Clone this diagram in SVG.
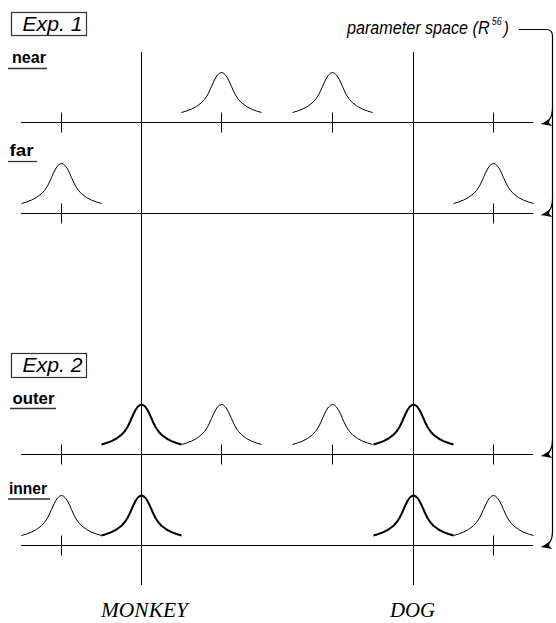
<svg xmlns="http://www.w3.org/2000/svg" xmlns:xlink="http://www.w3.org/1999/xlink" width="556" height="623" viewBox="0 0 556 623">
<style>
.ax{stroke:#000;stroke-width:1;fill:none}
.thin{stroke:#000;stroke-width:1;fill:none;stroke-linejoin:round}
.bold{stroke:#000;stroke-width:2;fill:none;stroke-linejoin:round}
.ul{stroke:#333;stroke-width:1.3}
.box{fill:#fff;stroke:#333;stroke-width:1.2}
.exp{font-family:"Liberation Sans",Arial,sans-serif;font-style:italic;font-size:20px;fill:#000}
.lab{font-family:"Liberation Sans",Arial,sans-serif;font-weight:bold;font-size:16px;fill:#000}
.par{font-family:"Liberation Sans",Arial,sans-serif;font-style:italic;font-size:18px;fill:#000}
.cat{font-family:"Liberation Serif","Times New Roman",serif;font-style:italic;font-size:22px;fill:#000}
.br{stroke:#000;stroke-width:1.2;fill:none}
</style>
<defs>
<path id="bump" d="M-40,0 L-35,-1.5 L-30,-3.4 L-25,-6 L-20,-9.8 L-17,-13 L-14,-17.5 L-12,-21.5 L-10,-26 L-8,-30.5 L-6,-34.5 L-4,-37.5 L-2,-39.3 L0,-40 L2,-39.3 L4,-37.5 L6,-34.5 L8,-30.5 L10,-26 L12,-21.5 L14,-17.5 L17,-13 L20,-9.8 L25,-6 L30,-3.4 L35,-1.5 L40,0"/>
<marker id="arr" markerUnits="userSpaceOnUse" markerWidth="10" markerHeight="8" viewBox="0 0 10 8" refX="10" refY="4" orient="auto">
<path d="M0,0 L10,4 L0,8 L2.5,4 z" fill="#000"/>
</marker>
</defs>

<g id="exp1">
<rect class="box" x="11.5" y="12.5" width="75" height="23"/>
<text class="exp" x="22.5" y="31" textLength="60" lengthAdjust="spacingAndGlyphs">Exp. 1</text>
</g>
<g id="exp2">
<rect class="box" x="11.5" y="353.5" width="75" height="24"/>
<text class="exp" x="22.5" y="372" textLength="60" lengthAdjust="spacingAndGlyphs">Exp. 2</text>
</g>

<g id="label-near">
<text class="lab" x="12" y="63" textLength="34" lengthAdjust="spacingAndGlyphs">near</text>
<line class="ul" x1="8" y1="68.5" x2="47" y2="68.5"/>
</g>
<g id="label-far">
<text class="lab" x="9.5" y="156" textLength="24" lengthAdjust="spacingAndGlyphs">far</text>
<line class="ul" x1="8" y1="161.5" x2="37" y2="161.5"/>
</g>
<g id="label-outer">
<text class="lab" x="12.5" y="404" textLength="42" lengthAdjust="spacingAndGlyphs">outer</text>
<line class="ul" x1="10" y1="408.5" x2="56" y2="408.5"/>
</g>
<g id="label-inner">
<text class="lab" x="9" y="494" textLength="38" lengthAdjust="spacingAndGlyphs">inner</text>
<line class="ul" x1="8" y1="499" x2="50" y2="499"/>
</g>

<g id="category-lines">
<line class="ax" x1="141.5" y1="52" x2="141.5" y2="585"/>
<line class="ax" x1="413.5" y1="52" x2="413.5" y2="585"/>
</g>

<g id="axis-near">
<line class="ax" x1="21" y1="122.5" x2="533" y2="122.5"/>
<path class="ax" d="M61.5,112.5V132.5M221.5,112.5V132.5M332.5,112.5V132.5M493.5,112.5V132.5"/>
<use xlink:href="#bump" href="#bump" class="thin" transform="translate(221.5,112.5)"/>
<use xlink:href="#bump" href="#bump" class="thin" transform="translate(332.5,112.5)"/>
</g>
<g id="axis-far">
<line class="ax" x1="21" y1="213.5" x2="533" y2="213.5"/>
<path class="ax" d="M61.5,203.5V223.5M493.5,203.5V223.5"/>
<use xlink:href="#bump" href="#bump" class="thin" transform="translate(61.5,203.5)"/>
<use xlink:href="#bump" href="#bump" class="thin" transform="translate(493.5,203.5)"/>
</g>
<g id="axis-outer">
<line class="ax" x1="21" y1="454.5" x2="533" y2="454.5"/>
<path class="ax" d="M61.5,444.5V464.5M221.5,444.5V464.5M332.5,444.5V464.5M493.5,444.5V464.5"/>
<use xlink:href="#bump" href="#bump" class="bold" transform="translate(141.5,444.5)"/>
<use xlink:href="#bump" href="#bump" class="thin" transform="translate(221.5,444.5)"/>
<use xlink:href="#bump" href="#bump" class="thin" transform="translate(332.5,444.5)"/>
<use xlink:href="#bump" href="#bump" class="bold" transform="translate(413.5,444.5)"/>
</g>
<g id="axis-inner">
<line class="ax" x1="21" y1="545.5" x2="533" y2="545.5"/>
<path class="ax" d="M61.5,535.5V555.5M493.5,535.5V555.5"/>
<use xlink:href="#bump" href="#bump" class="thin" transform="translate(61.5,535.5)"/>
<use xlink:href="#bump" href="#bump" class="bold" transform="translate(141.5,535.5)"/>
<use xlink:href="#bump" href="#bump" class="bold" transform="translate(413.5,535.5)"/>
<use xlink:href="#bump" href="#bump" class="thin" transform="translate(493.5,535.5)"/>
</g>

<g id="param-label">
<text class="par" x="347" y="34" textLength="162" lengthAdjust="spacingAndGlyphs">parameter space (R<tspan dx="2.5" dy="-9" style="font-size:10px">56</tspan><tspan dx="2" dy="9">)</tspan></text>
</g>

<g id="category-labels">
<text class="cat" x="101" y="616.5" textLength="87" lengthAdjust="spacingAndGlyphs">MONKEY</text>
<text class="cat" x="390" y="616.5" textLength="45" lengthAdjust="spacingAndGlyphs">DOG</text>
</g>

<g id="connectors">
<path class="br" d="M519,29.5 H546 Q552.5,29.5 552.5,36 V532 C552.5,541 549,545.5 541.5,547" marker-end="url(#arr)"/>
<path class="br" d="M552.5,108 C552.5,117 549,122.5 541.5,124" marker-end="url(#arr)"/>
<path class="br" d="M552.5,199 C552.5,208 549,213.5 541.5,215" marker-end="url(#arr)"/>
<path class="br" d="M552.5,440 C552.5,449 549,454.5 541.5,456" marker-end="url(#arr)"/>
</g>
</svg>
